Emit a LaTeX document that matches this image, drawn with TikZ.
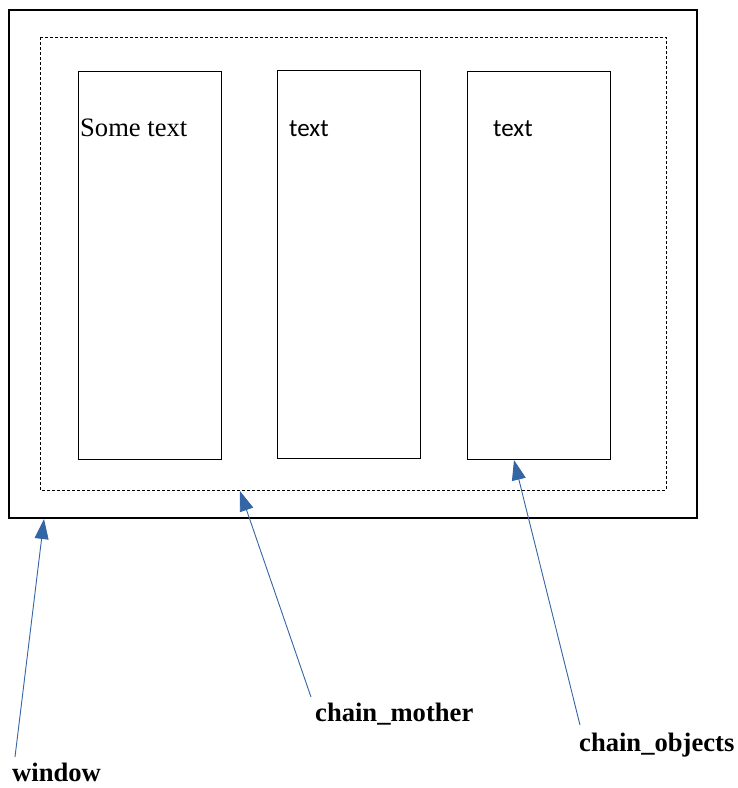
\documentclass[tikz,border=0pt]{standalone}
\usepackage{fontspec}
\setmainfont{Liberation Serif}
\newfontfamily\boxfont{Carlito}
\usetikzlibrary{arrows.meta,calc}
\definecolor{arrowblue}{RGB}{52,101,164}
\begin{document}
\begin{tikzpicture}[x=1pt,y=-1pt,
  panel/.style={draw=black,line width=0.9pt,inner sep=0pt},
  lbl/.style={anchor=base west,inner sep=0pt,font=\fontsize{26.6}{30}\selectfont\bfseries},
  txt/.style={anchor=base west,inner sep=0pt},
  pointer/.style={draw=arrowblue,line width=0.9pt,-{Triangle[length=20pt,width=14pt]}}]
\useasboundingbox (0,0) rectangle (738,788);
% outer window
\draw[line width=2pt] (9,10) rectangle (697,518);
\coordinate (win) at (44,519);
% chain mother (dotted)
\draw[line width=0.9pt,dash pattern=on 3pt off 2pt] (40,37) rectangle (666,490);
\coordinate (mother) at (240,491);
% chain objects
\node[panel,minimum width=143pt,minimum height=388pt] (b1) at (149.5,265) {};
\node[panel,minimum width=143pt,minimum height=388pt] (b2) at (348.5,264) {};
\node[panel,minimum width=143pt,minimum height=388pt] (b3) at (538.5,265) {};
\coordinate (obj) at (514,460);
\node[txt,font=\fontsize{26.6}{30}\selectfont] (t1) at (80,136) {Some text};
\node[txt,font=\boxfont\fontsize{25}{30}\selectfont] (t2) at (289,136) {text};
\node[txt,font=\boxfont\fontsize{25}{30}\selectfont] (t3) at (493,136) {text};
% labels
\node[lbl] (lwin) at (12,781) {window};
\node[lbl] (lmother) at (315,721) {chain\_mother};
\node[lbl] (lobj) at (579,751) {chain\_objects};
\coordinate (swin) at (15,757);
\coordinate (smother) at (311,697);
\coordinate (sobj) at (580,725);
\draw[pointer] (swin) -- (win);
\draw[pointer] (smother) -- (mother);
\draw[pointer] (sobj) -- (obj);
\end{tikzpicture}
\end{document}
